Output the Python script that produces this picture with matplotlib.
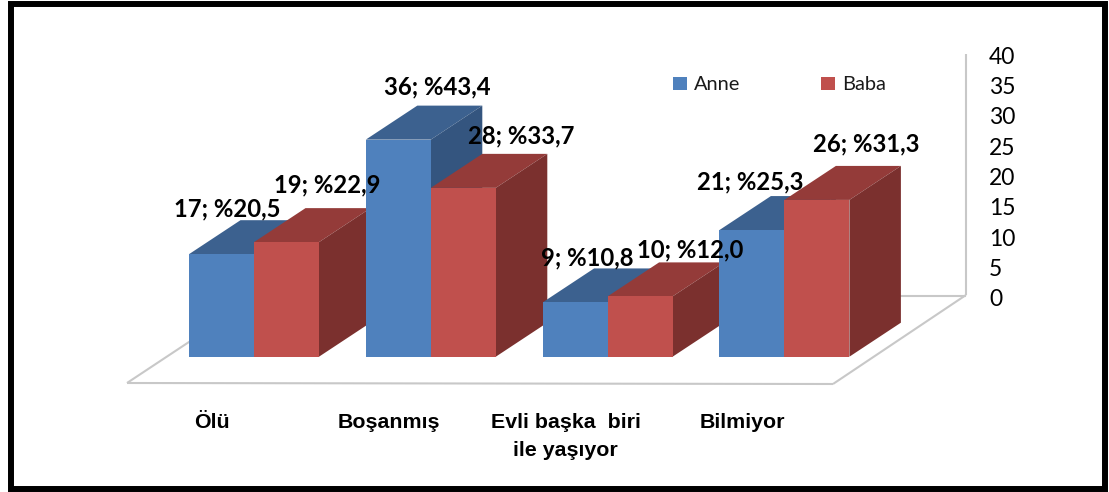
import matplotlib
matplotlib.use("Agg")
import matplotlib.pyplot as plt
from matplotlib.patches import Polygon, Rectangle

categories = ["Ölü", "Boşanmış", "Evli başka  biri\nile yaşıyor", "Bilmiyor"]
series_names = ["Anne", "Baba"]
anne_values = [17, 36, 9, 21]
baba_values = [19, 28, 10, 26]
anne_percent = ["20,5", "43,4", "10,8", "25,3"]
baba_percent = ["22,9", "33,7", "12,0", "31,3"]
y_ticks = [0, 5, 10, 15, 20, 25, 30, 35, 40]

W, H = 1109, 492
X0, STEP, BAR_PX = 189.0, 176.8, 65.0
BASE, PX_PER_UNIT = 356.7, 6.03
DX_PX, DY_PX = 51.5, 34.0

front = ["#4F81BD", "#C0504D"]
top = ["#3C618F", "#943B39"]
side = ["#34557F", "#7B302E"]
label_offsets = [[(5.5, 45), (39.5, 53), (12, 45), (-2, 48)],
                 [(41, 57), (58, 52), (50, 46), (49, 56)]]

fig = plt.figure(figsize=(W / 100, H / 100), dpi=100, facecolor="white")
ax = fig.add_axes([0, 0, 1, 1])
ax.set_xlim(-X0 / STEP, (W - X0) / STEP)
ax.set_ylim((BASE - H) / PX_PER_UNIT, BASE / PX_PER_UNIT)
ax.axis("off")


def px(x, y):
    return (x - X0) / STEP, (BASE - y) / PX_PER_UNIT


# floor and back wall
gray = "#C8C8C8"
for seg in [[(127, 383), (833, 384)], [(127, 383), (195, 338)], [(833, 384), (966, 295)],
            [(890, 295.5), (966, 295.5)], [(966, 295), (966, 54)]]:
    xs, ys = zip(*[px(*p) for p in seg])
    ax.plot(xs, ys, color=gray, lw=1.5, zorder=1, solid_capstyle="butt")

bw = BAR_PX / STEP
ddx = DX_PX / STEP
ddy = DY_PX / PX_PER_UNIT
z = 2
for i in range(len(categories)):
    for j, vals in enumerate([anne_values, baba_values]):
        v = vals[i]
        x = i + j * bw
        ax.bar(x, v, width=bw, align="edge", color=front[j], zorder=z + 0.2, linewidth=0)
        ax.add_patch(Polygon([(x, v), (x + bw, v), (x + bw + ddx, v + ddy), (x + ddx, v + ddy)],
                             closed=True, fc=top[j], ec="none", zorder=z))
        ax.add_patch(Polygon([(x + bw, 0), (x + bw + ddx, ddy), (x + bw + ddx, v + ddy), (x + bw, v)],
                             closed=True, fc=side[j], ec="none", zorder=z + 0.1))
        z += 1

# data labels
for j, (vals, pcts) in enumerate([(anne_values, anne_percent), (baba_values, baba_percent)]):
    for i, (v, p) in enumerate(zip(vals, pcts)):
        ax.annotate(f"{v}; %{p}", xy=(i + (j + 0.5) * bw, v), xytext=label_offsets[j][i],
                    textcoords="offset pixels", ha="center", va="center",
                    fontsize=17.2, fontweight="bold", family="Lato", color="black", zorder=100)

# category labels
for i, c in enumerate(categories):
    x, _ = px(254 + i * STEP - 42, 0)
    ax.text(x, (BASE - 412.5) / PX_PER_UNIT, c, ha="center", va="top", fontsize=15.4,
            fontweight="bold", family="Liberation Sans", linespacing=1.6, color="black", zorder=100)

# legend
handles = [Rectangle((0, 0), 1, 1, fc=front[k], ec="none") for k in range(2)]
lx, ly = px(673, 85)
ax.legend(handles, series_names, loc="center left", bbox_to_anchor=(lx, ly),
          bbox_transform=ax.transData, ncols=2, frameon=False, borderpad=0, borderaxespad=0,
          handlelength=0.72, handleheight=0.65, handletextpad=0.35, columnspacing=4.0,
          prop={"family": "Lato", "size": 14.4}, labelcolor="#1a1a1a")

# value axis labels
tax = fig.add_axes([966 / W, (H - 298) / H, 0.002, (298 - 55) / H])
tax.set_ylim(0, 40)
tax.set_yticks(y_ticks)
tax.yaxis.tick_right()
tax.tick_params(axis="y", length=0, pad=15, labelsize=16.5)
for t in tax.get_yticklabels():
    t.set_family("Lato")
tax.set_xticks([])
tax.patch.set_alpha(0)
for s in tax.spines.values():
    s.set_visible(False)

# outer frame
fig.add_artist(Rectangle((10.5 / W, (H - 489) / H), (1105 - 10.5) / W, (489 - 3.5) / H,
                         transform=fig.transFigure, fill=False, ec="black", lw=4.3, zorder=200))

fig.savefig("out.png", dpi=100)
